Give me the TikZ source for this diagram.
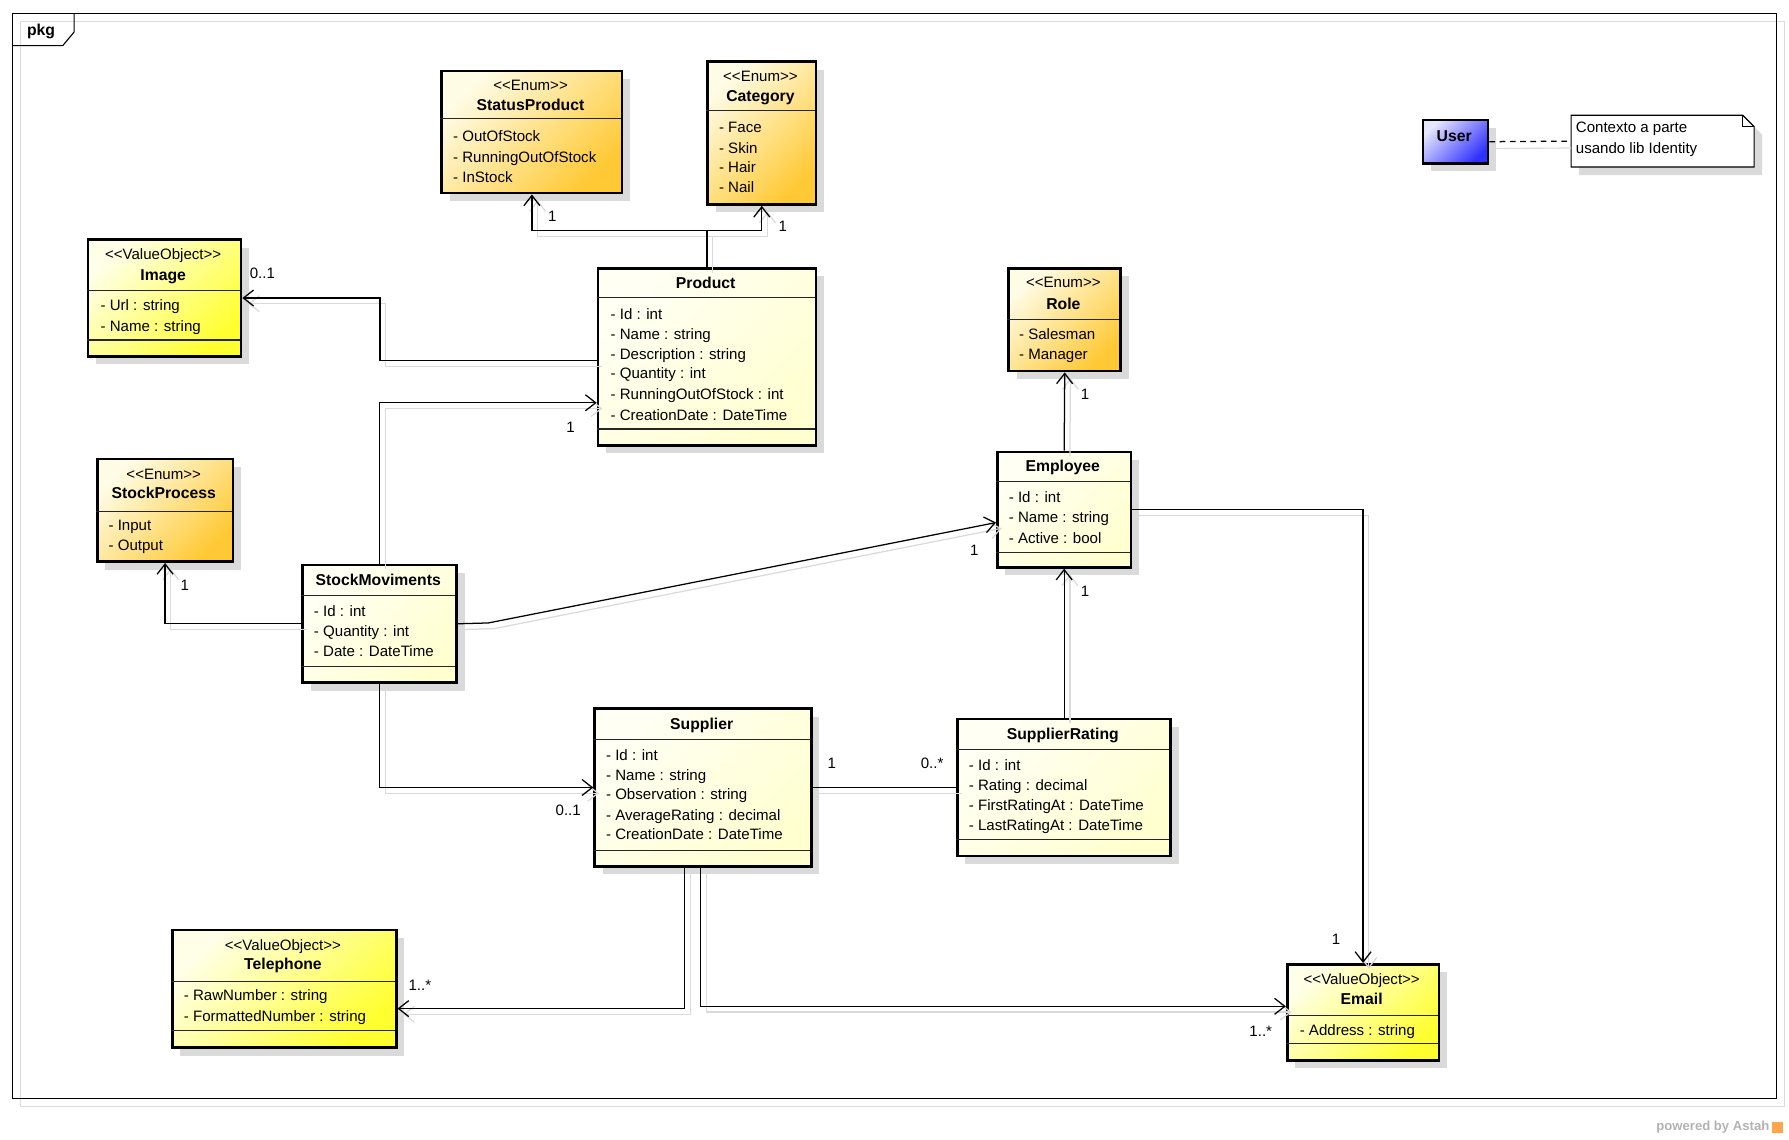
\documentclass[tikz,border=0pt]{standalone}
\usepackage{fontspec}
\setmainfont{Liberation Sans}
\usetikzlibrary{arrows.meta,shadows,calc}
\definecolor{enumA}{HTML}{FFFCE6}
\definecolor{enumB}{HTML}{FFC935}
\definecolor{voA}{HTML}{FFFFE8}
\definecolor{voB}{HTML}{FFFF30}
\definecolor{clsA}{HTML}{FFFFF4}
\definecolor{clsB}{HTML}{FFFFD0}
\definecolor{usrA}{HTML}{E6E6FF}
\definecolor{usrB}{HTML}{3030FF}
\definecolor{shd}{HTML}{DADADA}
\newcommand\fs{\fontsize{13.2}{15}\selectfont}
\newcommand\fb{\fontsize{13.8}{15}\selectfont\bfseries}
\tikzset{
  box/.style={draw=black, line width=2.4pt, inner sep=0pt, anchor=north west,
    drop shadow={shadow xshift=7pt, shadow yshift=-7pt, fill=shd, opacity=1}},
  enumbox/.style={box, top color=enumA, bottom color=enumB, shading angle=45},
  vobox/.style={box, top color=voA, bottom color=voB, shading angle=45},
  clsbox/.style={box, top color=clsA, bottom color=clsB, shading angle=45},
  usrbox/.style={box, top color=usrA, bottom color=usrB, shading angle=45},
  sepline/.style={draw=black!85, line width=0.9pt},
  stereo/.style={font=\fs, inner sep=0pt, anchor=mid, yshift=-1.5pt},
  ttl/.style={font=\fb, inner sep=0pt, anchor=mid, yshift=-1.5pt},
  attr/.style={font=\fs, inner sep=0pt, anchor=mid west, yshift=-1.5pt},
  mlab/.style={font=\fs, inner sep=0pt, anchor=mid, yshift=-1.5pt},
  assoc/.style={draw=black, line width=1.1pt},
  arr/.style={-{Straight Barb[length=9pt,width=14pt,line width=1.1pt]}},
  shline/.style={draw=shd, transform canvas={shift={(5pt,-5pt)}}},
}
\newcommand\conn[2][]{\draw[assoc,#1,shline] #2; \draw[assoc,#1] #2;}
\begin{document}
\begin{tikzpicture}[x=1pt,y=-1pt]
\useasboundingbox (0,0) rectangle (1568,999);
% frame
\draw[shd, line width=1pt] (18,19) rectangle (1564,970);
\draw[black, line width=1pt] (11,12) rectangle (1557,963);
\draw[black, line width=1pt] (11,40) -- (55,40) -- (65,28) -- (65,12);
\node[ttl] (pkg) at (36,27) {pkg};

% StatusProduct
\node[enumbox, minimum width=158pt, minimum height=107pt] (status) at (386,61) {};
\draw[sepline] (386,104) -- (544,104);
\node[stereo] (status0) at (465,75) {<{}<Enum>{}>};
\node[ttl] (status1) at (465,93) {StatusProduct};
\node[attr] (status2) at (397,120) {- OutOfStock};
\node[attr] (status3) at (397,138) {- RunningOutOfStock};
\node[attr] (status4) at (397,156) {- InStock};

% Category
\node[enumbox, minimum width=95pt, minimum height=125pt] (cat) at (619,53) {};
\draw[sepline] (619,97) -- (714,97);
\node[stereo] (cat0) at (666.5,67) {<{}<Enum>{}>};
\node[ttl] (cat1) at (666.5,85) {Category};
\node[attr] (cat2) at (630,112) {- Face};
\node[attr] (cat3) at (630,130) {- Skin};
\node[attr] (cat4) at (630,147) {- Hair};
\node[attr] (cat5) at (630,165) {- Nail};

% Image
\node[vobox, minimum width=134pt, minimum height=102pt] (img) at (76,209) {};
\draw[sepline] (76,255) -- (210,255);
\draw[sepline] (76,298) -- (210,298);
\node[stereo] (img0) at (143,223) {<{}<ValueObject>{}>};
\node[ttl] (img1) at (143,242) {Image};
\node[attr] (img2) at (88,268) {- Url : string};
\node[attr] (img3) at (88,286) {- Name : string};

% Product
\node[clsbox, minimum width=191pt, minimum height=155pt] (prod) at (523,234) {};
\draw[sepline] (523,261) -- (714,261);
\draw[sepline] (523,376) -- (714,376);
\node[ttl] (prod0) at (618.5,249) {Product};
\node[attr] (prod1) at (535,276) {- Id : int};
\node[attr] (prod2) at (535,293) {- Name : string};
\node[attr] (prod3) at (535,311) {- Description : string};
\node[attr] (prod4) at (535,328) {- Quantity : int};
\node[attr] (prod5) at (535,346) {- RunningOutOfStock : int};
\node[attr] (prod6) at (535,364) {- CreationDate : DateTime};

% Role
\node[enumbox, minimum width=98pt, minimum height=90pt] (role) at (883,234) {};
\draw[sepline] (883,280) -- (981,280);
\node[stereo] (role0) at (932,248) {<{}<Enum>{}>};
\node[ttl] (role1) at (932,267) {Role};
\node[attr] (role2) at (893,293) {- Salesman};
\node[attr] (role3) at (893,311) {- Manager};

% User and note
\node[usrbox, minimum width=57pt, minimum height=38pt] (user) at (1246,104) {};
\node[ttl] (user0) at (1274.5,120) {User};
\node[inner sep=0pt, anchor=north west, minimum width=160pt, minimum height=45pt] (note) at (1377,101) {};
\fill[shd, transform canvas={shift={(7pt,-7pt)}}] (note.north west) -- ([xshift=-10pt]note.north east) -- ([yshift=-10pt]note.north east) -- (note.south east) -- (note.south west) -- cycle;
\draw[black, line width=1pt, fill=white] (note.north west) -- ([xshift=-10pt]note.north east) -- ([yshift=-10pt]note.north east) -- (note.south east) -- (note.south west) -- cycle;
\draw[black, line width=1pt] ([xshift=-10pt]note.north east) |- ([yshift=-10pt]note.north east);
\node[attr] (note0) at (1381,112) {Contexto a parte};
\node[attr] (note1) at (1381,130) {usando lib Identity};
\draw[shd, line width=1pt, transform canvas={shift={(0pt,-6pt)}}] (user.east) -- (note.west);
\draw[black, line width=1.1pt, dash pattern=on 5pt off 4pt] (user.east) -- (note.west);

% StockProcess
\node[enumbox, minimum width=119pt, minimum height=90pt] (sp) at (84,401) {};
\draw[sepline] (84,448) -- (203,448);
\node[stereo] (sp0) at (143.5,416) {<{}<Enum>{}>};
\node[ttl] (sp1) at (143.5,433) {StockProcess};
\node[attr] (sp2) at (95,461) {- Input};
\node[attr] (sp3) at (95,478) {- Output};

% StockMoviments
\node[clsbox, minimum width=135pt, minimum height=103pt] (sm) at (264,494) {};
\draw[sepline] (264,522) -- (399,522);
\draw[sepline] (264,584) -- (399,584);
\node[ttl] (sm0) at (331.5,509) {StockMoviments};
\node[attr] (sm1) at (275,536) {- Id : int};
\node[attr] (sm2) at (275,554) {- Quantity : int};
\node[attr] (sm3) at (275,571) {- Date : DateTime};

% Employee
\node[clsbox, minimum width=117pt, minimum height=101pt] (emp) at (873,395) {};
\draw[sepline] (873,422) -- (990,422);
\draw[sepline] (873,484) -- (990,484);
\node[ttl] (emp0) at (931.5,409) {Employee};
\node[attr] (emp1) at (884,436) {- Id : int};
\node[attr] (emp2) at (884,454) {- Name : string};
\node[attr] (emp3) at (884,472) {- Active : bool};

% Supplier
\node[clsbox, minimum width=190pt, minimum height=138pt] (sup) at (520,620) {};
\draw[sepline] (520,648) -- (710,648);
\draw[sepline] (520,745) -- (710,745);
\node[ttl] (sup0) at (615,635) {Supplier};
\node[attr] (sup1) at (531,662) {- Id : int};
\node[attr] (sup2) at (531,680) {- Name : string};
\node[attr] (sup3) at (531,697) {- Observation : string};
\node[attr] (sup4) at (531,715) {- AverageRating : decimal};
\node[attr] (sup5) at (531,732) {- CreationDate : DateTime};

% SupplierRating
\node[clsbox, minimum width=187pt, minimum height=120pt] (sr) at (838,629) {};
\draw[sepline] (838,657) -- (1025,657);
\draw[sepline] (838,736) -- (1025,736);
\node[ttl] (sr0) at (931.5,644) {SupplierRating};
\node[attr] (sr1) at (849,671) {- Id : int};
\node[attr] (sr2) at (849,689) {- Rating : decimal};
\node[attr] (sr3) at (849,706) {- FirstRatingAt : DateTime};
\node[attr] (sr4) at (849,724) {- LastRatingAt : DateTime};

% Telephone
\node[vobox, minimum width=196pt, minimum height=103pt] (tel) at (150,814) {};
\draw[sepline] (150,860) -- (346,860);
\draw[sepline] (150,903) -- (346,903);
\node[stereo] (tel0) at (248,829) {<{}<ValueObject>{}>};
\node[ttl] (tel1) at (248,846) {Telephone};
\node[attr] (tel2) at (161,873) {- RawNumber : string};
\node[attr] (tel3) at (161,891) {- FormattedNumber : string};

% Email
\node[vobox, minimum width=133pt, minimum height=84pt] (email) at (1127,844) {};
\draw[sepline] (1127,890) -- (1260,890);
\draw[sepline] (1127,915) -- (1260,915);
\node[stereo] (email0) at (1193.5,859) {<{}<ValueObject>{}>};
\node[ttl] (email1) at (1193.5,876) {Email};
\node[attr] (email2) at (1139,903) {- Address : string};

% bend coordinates
\coordinate (yA) at (0,202);
\coordinate (cI) at (333,316);
\coordinate (yP) at (0,353);
\coordinate (cF) at (428,546);
\coordinate (yF) at (0,458);
\coordinate (cL) at (600,884);
\coordinate (cM) at (614,882);

% connectors
\conn[arr]{(prod.north) |- (status.south |- yA) -- (status.south)}
\conn[arr]{(prod.north) |- (cat.south |- yA) -- (cat.south)}
\conn[arr]{(cI -| prod.west) -- (cI) |- (img.east)}
\conn[arr]{(sm.north) |- (prod.west |- yP)}
\conn[arr]{(sm.west) -| (sp.south)}
\conn[arr]{(sm.east) -- (cF) -- (emp.west |- yF)}
\conn[arr]{(sm.south) |- (sup.west)}
\conn{(sup.east) -- (sr.west)}
\conn[arr]{(sr.north) -- (emp.south)}
\conn[arr]{(emp.north) -- (role.south)}
\conn[arr]{(emp.east) -| (email.north)}
\conn[arr]{(cL |- sup.south) -- (cL) -- (cL -| tel.east)}
\conn[arr]{(cM |- sup.south) -- (cM) -- (cM -| email.west)}

% multiplicities
\node[mlab] (m1) at (484,190) {1};
\node[mlab] (m2) at (686,199) {1};
\node[mlab] (m3) at (230,240) {0..1};
\node[mlab] (m4) at (500,375) {1};
\node[mlab] (m5) at (162,513) {1};
\node[mlab] (m6) at (854,483) {1};
\node[mlab] (m7) at (498,711) {0..1};
\node[mlab] (m8) at (729,669) {1};
\node[mlab] (m9) at (817,669) {0..*};
\node[mlab] (m10) at (951,519) {1};
\node[mlab] (m11) at (951,346) {1};
\node[mlab] (m12) at (1171,824) {1};
\node[mlab] (m13) at (368,864) {1..*};
\node[mlab] (m14) at (1105,904) {1..*};

% footer
\node[font=\fontsize{11.5}{13}\selectfont\bfseries, text=black!30, inner sep=0pt, anchor=mid east] (pw) at (1551,988) {powered by Astah};
\node[fill=orange!70, inner sep=0pt, minimum width=10pt, minimum height=10pt] (logo) at (1558,988) {};
\end{tikzpicture}
\end{document}
